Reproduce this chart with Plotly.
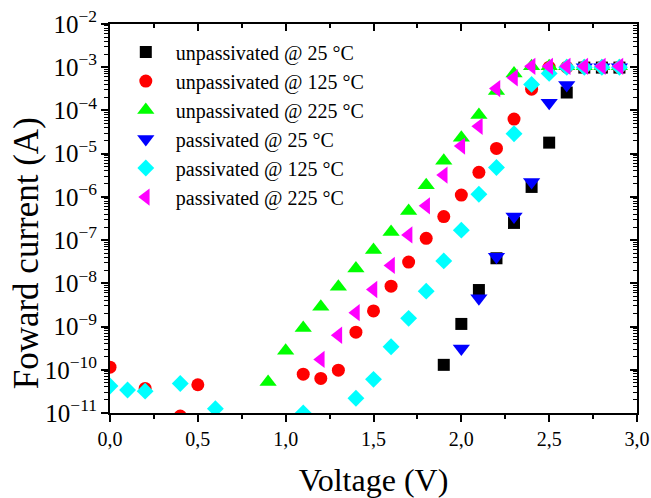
import plotly.graph_objects as go

# ---- data (Voltage in V, current in A) ----
v_unpass25 = [1.9, 2.0, 2.1, 2.2, 2.3, 2.4, 2.5, 2.6, 2.7, 2.8, 2.9]
i_unpass25 = [1.3e-10, 1.15e-9, 7e-9, 3.8e-8, 2.5e-7, 1.7e-6, 1.8e-5, 2.6e-4, 9.8e-4, 9.8e-4, 9.8e-4]

v_unpass125 = [0.0, 0.2, 0.4, 0.5, 1.1, 1.2, 1.3, 1.4, 1.5, 1.6, 1.7, 1.8, 1.9, 2.0, 2.1, 2.2, 2.3, 2.4, 2.5, 2.6, 2.7, 2.8, 2.9]
i_unpass125 = [1.15e-10, 3.7e-11, 8.5e-12, 4.5e-11, 7.9e-11, 6.3e-11, 9.8e-11, 7.4e-10, 2.3e-9, 8.6e-9, 3.1e-8, 1.1e-7,
               3.5e-7, 1.1e-6, 3.7e-6, 1.32e-5, 6.3e-5, 3.1e-4, 1.0e-3, 1.0e-3, 1.0e-3, 1.0e-3, 1.0e-3]

v_unpass225 = [0.9, 1.0, 1.1, 1.2, 1.3, 1.4, 1.5, 1.6, 1.7, 1.8, 1.9, 2.0, 2.1, 2.2, 2.3, 2.4, 2.5, 2.6, 2.7, 2.8, 2.9]
i_unpass225 = [5.2e-11, 2.75e-10, 9.3e-10, 2.86e-9, 8.3e-9, 2.2e-8, 5.9e-8, 1.55e-7, 4.7e-7, 1.87e-6, 6.9e-6, 2.35e-5,
               7.8e-5, 2.8e-4, 7.2e-4, 1.05e-3, 1.05e-3, 1.05e-3, 1.05e-3, 1.05e-3, 1.05e-3]

v_pass25 = [2.0, 2.1, 2.2, 2.3, 2.4, 2.5, 2.6, 2.7, 2.8, 2.9]
i_pass25 = [3.1e-10, 4.5e-9, 4.1e-8, 3.5e-7, 2.2e-6, 1.5e-4, 3.9e-4, 1.0e-3, 1.0e-3, 1.0e-3]

v_pass125 = [0.0, 0.1, 0.2, 0.4, 0.6, 1.1, 1.4, 1.5, 1.6, 1.7, 1.8, 1.9, 2.0, 2.1, 2.2, 2.3, 2.4, 2.5, 2.6, 2.7, 2.8, 2.9]
i_pass125 = [4.2e-11, 3.4e-11, 3.2e-11, 4.8e-11, 1.26e-11, 1.0e-11, 2.2e-11, 6.0e-11, 3.4e-10, 1.55e-9, 6.6e-9, 3.3e-8,
             1.7e-7, 1.15e-6, 4.8e-6, 2.9e-5, 4.0e-4, 7.2e-4, 1.0e-3, 1.0e-3, 1.0e-3, 1.0e-3]

v_pass225 = [1.2, 1.3, 1.4, 1.5, 1.6, 1.7, 1.8, 1.9, 2.0, 2.1, 2.2, 2.3, 2.4, 2.5, 2.6, 2.7, 2.8, 2.9]
i_pass225 = [1.74e-10, 6.3e-10, 2.1e-9, 7.2e-9, 2.6e-8, 1.32e-7, 6.2e-7, 3.2e-6, 1.5e-5, 4.3e-5, 3.2e-4, 5.7e-4,
             1.05e-3, 1.05e-3, 1.05e-3, 1.05e-3, 1.05e-3, 1.05e-3]

series_names = ["unpassivated @ 25 °C", "unpassivated @ 125 °C", "unpassivated @ 225 °C",
                "passivated @ 25 °C", "passivated @ 125 °C", "passivated @ 225 °C"]

x_title = "Voltage (V)"
y_title = "Foward current (A)"

FONT = "Liberation Serif, Times New Roman, serif"

fig = go.Figure()
specs = [
    (v_unpass25, i_unpass25, "square", "#000000", 12),
    (v_unpass125, i_unpass125, "circle", "#FF0000", 13),
    (v_unpass225, i_unpass225, "triangle-up", "#00FF00", 15),
    (v_pass25, i_pass25, "triangle-down", "#0000FF", 15),
    (v_pass125, i_pass125, "diamond", "#00FFFF", 13),
    (v_pass225, i_pass225, "triangle-left", "#FF00FF", 15),
]
for name, (vx, iy, sym, col, sz) in zip(series_names, specs):
    fig.add_trace(go.Scatter(x=vx, y=iy, mode="markers", name=name,
                             marker=dict(symbol=sym, color=col, size=sz, line=dict(width=0))))

axis_common = dict(linecolor="black", linewidth=2, showgrid=False, zeroline=False,
                   tickcolor="black", tickwidth=1.5, automargin=False)

fig.update_layout(
    width=651, height=498,
    margin=dict(l=110, r=14, t=24, b=85),
    paper_bgcolor="white", plot_bgcolor="white",
    separators=",.",
    font=dict(family=FONT, color="black", size=20),
    showlegend=True,
    legend=dict(x=0.011, y=0.978, xanchor="left", yanchor="top", bgcolor="rgba(0,0,0,0)",
                font=dict(family=FONT, size=20, color="black"), itemwidth=50,
                tracegroupgap=0),
    xaxis=dict(range=[0, 3], dtick=0.5, tick0=0, tickformat=".1f", ticks="outside", ticklen=7,
               mirror=True, showline=True,
               minor=dict(ticks="outside", ticklen=4, dtick=0.25, tickcolor="black", tickwidth=1.5),
               tickfont=dict(family=FONT, size=20),
               title=dict(text=x_title, font=dict(family=FONT, size=32), standoff=21),
               **axis_common),
    yaxis=dict(type="log", range=[-11, -2], dtick=1, exponentformat="power", showexponent="all",
               ticks="outside", ticklen=7, mirror=True, showline=True,
               minor=dict(ticks="outside", ticklen=4, dtick="D1", tickcolor="black", tickwidth=1),
               tickfont=dict(family=FONT, size=20),
               **axis_common),
    xaxis2=dict(overlaying="x", side="top", range=[0, 3], dtick=0.5, tick0=0, ticks="inside", ticklen=7,
                showticklabels=False, showline=False, showgrid=False, zeroline=False, automargin=False,
                tickcolor="black", tickwidth=1.5,
                minor=dict(ticks="inside", ticklen=4, dtick=0.25, tickcolor="black", tickwidth=1.5)),
    yaxis2=dict(overlaying="y", side="right", type="log", range=[-11, -2], dtick=1, ticks="inside", ticklen=7,
                showticklabels=False, showline=False, showgrid=False, zeroline=False, automargin=False,
                tickcolor="black", tickwidth=1.5,
                minor=dict(ticks="inside", ticklen=4, dtick="D1", tickcolor="black", tickwidth=1)),
    annotations=[dict(text=y_title, xref="paper", yref="paper", x=-0.159, y=0.411,
                      xanchor="center", yanchor="middle", textangle=-90, showarrow=False,
                      font=dict(family=FONT, size=35, color="black"))],
)
# invisible helper trace so the mirrored tick axes render
fig.add_trace(go.Scatter(x=[None], y=[None], xaxis="x2", yaxis="y2", showlegend=False, hoverinfo="skip"))

fig.write_html("out.html", config={"displayModeBar": False},
               post_script="document.body.style.margin='0px';document.body.style.overflow='hidden';")
